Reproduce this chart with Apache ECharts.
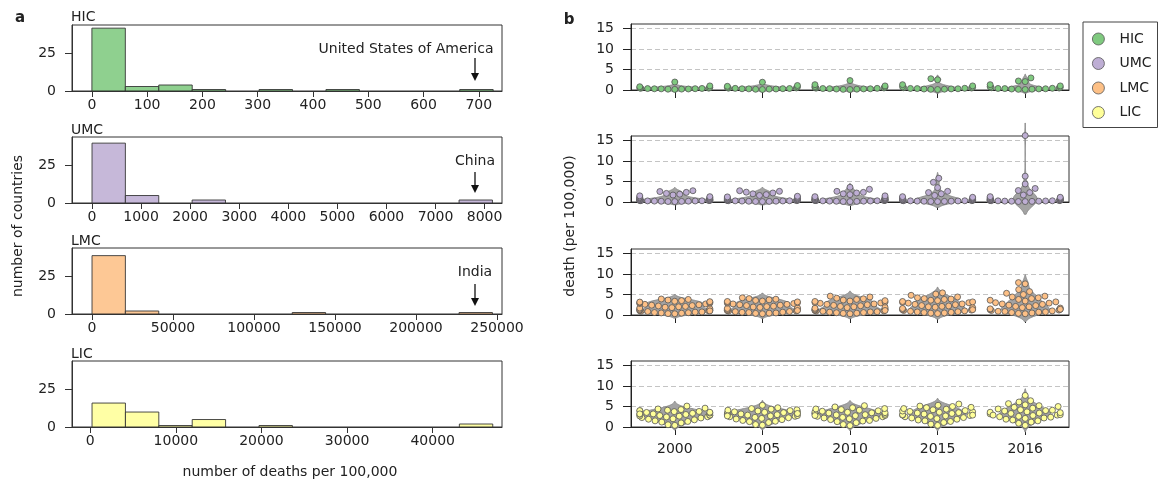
<!DOCTYPE html>
<html><head><meta charset="utf-8">
<script src="https://cdn.jsdelivr.net/npm/echarts@6/dist/echarts.min.js"></script>
<style>html,body{margin:0;padding:0;background:#fff}#c{width:1161px;height:481px}</style>
</head><body><div id="c"></div>
<script>
// ---------------- DATA ----------------
const groups = ['HIC', 'UMC', 'LMC', 'LIC'];
const years = ['2000', '2005', '2010', '2015', '2016'];

// Histograms (panel a): first bin edge, bin width, counts per bin
const histStart = [0, 0, 0, 210];
const histBinWidth = [60.5, 680, 20600, 3900];
const histHIC = [42, 3, 4, 1, 0, 1, 0, 1, 0, 0, 0, 1];
const histUMC = [40, 5, 0, 2, 0, 0, 0, 0, 0, 0, 0, 2];
const histLMC = [39, 2, 0, 0, 0, 0, 1, 0, 0, 0, 0, 1];
const histLIC = [16, 10, 1, 5, 0, 1, 0, 0, 0, 0, 0, 2];
const histXTicksHIC = [0, 100, 200, 300, 400, 500, 600, 700];
const histXTicksUMC = [0, 1000, 2000, 3000, 4000, 5000, 6000, 7000, 8000];
const histXTicksLMC = [0, 50000, 100000, 150000, 200000, 250000];
const histXTicksLIC = [0, 10000, 20000, 30000, 40000];
const histYTicks = [0, 25];
const deathYTicks = [0, 5, 10, 15];

// Swarm values (panel b): deaths per 100,000 per country, per year
const hic2000 = [0.15,0.2,0.22,0.25,0.28,0.3,0.32,0.35,0.38,0.42,0.45,0.5,0.6,0.8,1.0,1.95];
const hic2005 = [0.12,0.18,0.22,0.25,0.28,0.3,0.33,0.36,0.4,0.45,0.5,0.6,0.75,0.9,1.1,1.9];
const hic2010 = [0.12,0.16,0.2,0.24,0.27,0.3,0.33,0.36,0.4,0.45,0.5,0.58,0.7,0.85,1.0,1.3,2.3];
const hic2015 = [0.12,0.16,0.2,0.24,0.27,0.3,0.34,0.38,0.42,0.48,0.55,0.65,0.8,1.0,1.3,2.5,2.75];
const hic2016 = [0.12,0.16,0.2,0.24,0.27,0.3,0.34,0.38,0.42,0.48,0.55,0.65,0.8,1.0,1.3,2.05,2.2,2.95];

const umc2000 = [0.1,0.12,0.15,0.18,0.2,0.22,0.25,0.27,0.3,0.32,0.35,0.38,0.4,0.42,0.45,0.5,0.55,0.6,0.7,0.8,0.9,1.0,1.1,1.2,1.3,1.5,1.7,1.9,2.1,2.35,2.55,2.75];
const umc2005 = [0.1,0.12,0.15,0.18,0.2,0.22,0.25,0.28,0.3,0.32,0.35,0.38,0.4,0.43,0.47,0.52,0.58,0.65,0.75,0.85,0.95,1.05,1.15,1.25,1.4,1.6,1.8,2.0,2.2,2.4,2.6,2.75];
const umc2010 = [0.1,0.12,0.15,0.18,0.2,0.22,0.25,0.28,0.3,0.32,0.35,0.38,0.4,0.43,0.47,0.52,0.58,0.65,0.75,0.85,0.95,1.05,1.15,1.3,1.5,1.8,2.0,2.2,2.35,2.6,3.1,3.6];
const umc2015 = [0.1,0.12,0.15,0.18,0.2,0.22,0.25,0.28,0.3,0.32,0.35,0.38,0.4,0.43,0.47,0.52,0.58,0.65,0.75,0.85,0.95,1.05,1.15,1.3,1.6,2.0,2.3,2.6,3.5,4.8,5.8];
const umc2016 = [0.1,0.12,0.15,0.18,0.2,0.22,0.25,0.28,0.3,0.32,0.35,0.38,0.4,0.43,0.47,0.52,0.58,0.65,0.75,0.85,0.95,1.05,1.15,1.3,1.7,2.3,2.8,3.3,4.4,6.3,16.2];

const lmc2000 = [0.3,0.35,0.45,0.5,0.55,0.6,0.7,0.75,0.85,0.9,1.0,1.05,1.1,1.2,1.3,1.4,1.55,1.7,1.8,1.9,2.0,2.1,2.2,2.3,2.4,2.5,2.6,2.7,2.8,2.9,3.0,3.1,3.15,3.25,3.35,3.5,3.65,3.8,3.9,1.0];
const lmc2005 = [0.3,0.4,0.45,0.5,0.6,0.65,0.7,0.8,0.85,0.95,1.0,1.1,1.15,1.25,1.35,1.5,1.6,1.75,1.85,1.95,2.05,2.15,2.3,2.4,2.5,2.6,2.7,2.8,2.9,3.0,3.1,3.2,3.3,3.4,3.55,3.7,3.85,4.0,4.2,1.1];
const lmc2010 = [0.3,0.4,0.45,0.55,0.6,0.7,0.75,0.8,0.9,0.95,1.0,1.1,1.2,1.3,1.4,1.5,1.65,1.8,1.9,2.0,2.1,2.25,2.35,2.5,2.6,2.7,2.85,2.95,3.05,3.15,3.3,3.4,3.5,3.65,3.8,3.95,4.1,4.4,4.6,1.1];
const lmc2015 = [0.35,0.45,0.5,0.6,0.65,0.75,0.8,0.9,1.0,1.1,1.2,1.3,1.4,1.5,1.6,1.8,1.9,2.0,2.1,2.2,2.3,2.5,2.6,2.7,2.9,3.0,3.1,3.2,3.3,3.5,3.6,3.8,3.9,4.0,4.2,4.4,4.8,5.1,5.4,1.3];
const lmc2016 = [0.3,0.4,0.5,0.6,0.7,0.75,0.85,0.9,1.0,1.1,1.2,1.3,1.4,1.5,1.7,1.8,2.0,2.1,2.3,2.4,2.6,2.7,2.9,3.0,3.2,3.4,3.6,3.8,4.0,4.2,4.4,4.6,5.0,5.3,5.7,6.2,7.6,7.9,1.4];

const lic2000 = [0.4,0.55,1.0,1.2,1.35,1.5,1.75,1.9,2.0,2.2,2.3,2.45,2.5,2.65,2.7,2.85,2.9,3.05,3.1,3.2,3.35,3.4,3.55,3.6,3.75,3.8,3.95,4.0,4.1,4.25,4.4,4.6,5.1,2.8,3.2];
const lic2005 = [0.45,0.6,1.1,1.3,1.4,1.6,1.8,1.95,2.1,2.25,2.35,2.5,2.6,2.7,2.8,2.9,3.0,3.1,3.2,3.3,3.4,3.5,3.6,3.7,3.8,3.9,4.0,4.1,4.2,4.35,4.5,4.7,5.3,2.7,3.3];
const lic2010 = [0.35,0.6,1.05,1.3,1.45,1.6,1.8,2.0,2.1,2.2,2.35,2.5,2.6,2.75,2.8,2.95,3.0,3.1,3.2,3.35,3.45,3.5,3.6,3.7,3.85,3.95,4.1,4.25,4.4,4.5,4.7,4.9,5.2,2.8,3.4];
const lic2015 = [0.4,0.7,1.1,1.35,1.5,1.7,1.9,2.05,2.2,2.3,2.5,2.6,2.7,2.8,2.9,3.0,3.15,3.3,3.4,3.5,3.7,3.8,3.9,4.0,4.2,4.35,4.5,4.7,4.8,5.0,5.1,5.3,5.6,2.9,3.6];
const lic2016 = [0.4,0.9,1.2,1.5,1.7,1.9,2.1,2.2,2.4,2.5,2.6,2.8,2.9,3.0,3.2,3.3,3.4,3.6,3.7,3.9,4.0,4.2,4.4,4.6,4.8,5.0,5.2,5.4,5.7,6.1,6.4,7.7,2.9,3.5,4.1];

// ---------------- ASSEMBLY ----------------
const hists = [histHIC, histUMC, histLMC, histLIC];
const histTicks = [histXTicksHIC, histXTicksUMC, histXTicksLMC, histXTicksLIC];
const histRange = [[-36, 742], [-408, 8355], [-12360, 253100], [-2130, 48090]];
const swarm = [
  [hic2000, hic2005, hic2010, hic2015, hic2016],
  [umc2000, umc2005, umc2010, umc2015, umc2016],
  [lmc2000, lmc2005, lmc2010, lmc2015, lmc2016],
  [lic2000, lic2005, lic2010, lic2015, lic2016]
];
const colors = ['#7fc97f', '#beaed4', '#fdc086', '#ffff99'];
const FONT = 'DejaVu Sans';
const TXT = '#222';
const LL = 72, LW = 430, RL = 631, RW = 438, H = 66;
const leftTops = [25, 137, 248, 361];
const rightTops = [24, 136, 249, 361];
const YMAX_B = 16.1;
const plain = v => String(Math.round(v));

const chart = echarts.init(document.getElementById('c'));

function baseOption() {
  const grid = [], xAxis = [], yAxis = [];
  for (let g = 0; g < 4; g++) {
    grid.push({left: LL, top: leftTops[g], width: LW, height: H, show: true, borderColor: '#333', borderWidth: 1});
    xAxis.push({type: 'value', gridIndex: g, min: histRange[g][0], max: histRange[g][1],
      axisLine: {show: true, onZero: false, lineStyle: {color: '#333'}},
      axisTick: {show: true, length: 6, customValues: histTicks[g], lineStyle: {color: '#333'}},
      axisLabel: {customValues: histTicks[g], formatter: plain, margin: 7, fontSize: 14, color: TXT, fontFamily: FONT},
      splitLine: {show: false}});
    yAxis.push({type: 'value', gridIndex: g, min: 0, max: 44.1,
      axisLine: {show: true, onZero: false, lineStyle: {color: '#333'}},
      axisTick: {show: true, length: 7, customValues: histYTicks, lineStyle: {color: '#333'}},
      axisLabel: {customValues: histYTicks, formatter: plain, margin: 16, fontSize: 14, color: TXT, fontFamily: FONT},
      splitLine: {show: false}});
  }
  for (let g = 0; g < 4; g++) {
    grid.push({left: RL, top: rightTops[g], width: RW, height: H, show: true, borderColor: '#333', borderWidth: 1});
    xAxis.push({type: 'value', gridIndex: 4 + g, min: -0.5, max: 4.5,
      axisLine: {show: true, onZero: false, lineStyle: {color: '#222'}},
      axisTick: {show: true, length: 8, customValues: [0, 1, 2, 3, 4], lineStyle: {color: '#222'}},
      axisLabel: {show: g === 3, customValues: [0, 1, 2, 3, 4], formatter: v => years[Math.round(v)],
        margin: 15, fontSize: 14, color: TXT, fontFamily: FONT},
      splitLine: {show: false}});
    yAxis.push({type: 'value', gridIndex: 4 + g, min: 0, max: YMAX_B, interval: 5,
      axisLine: {show: true, onZero: false, lineStyle: {color: '#222'}},
      axisTick: {show: true, length: 8, customValues: deathYTicks, lineStyle: {color: '#222'}},
      axisLabel: {customValues: deathYTicks, formatter: plain, margin: 17, fontSize: 14, color: TXT, fontFamily: FONT},
      splitLine: {show: true, lineStyle: {color: '#c4c4c4', type: [5, 3], width: 1}}});
  }
  return {animation: false, backgroundColor: '#fff', grid, xAxis, yAxis};
}

const opt = baseOption();
chart.setOption(opt);

// beeswarm layout in pixel space (seaborn-like), then converted back to data units
function beeswarm(ys, d, maxHalf) {
  const n = ys.length;
  const order = ys.map((y, i) => i).sort((a, b) => ys[b] - ys[a]);
  const placed = [];
  const xs = new Array(n);
  for (const i of order) {
    const y = ys[i];
    const nb = placed.filter(p => Math.abs(p.y - y) < d);
    const cands = [0];
    for (const p of nb) {
      const dx = Math.sqrt(d * d - (p.y - y) * (p.y - y));
      cands.push(p.x + dx, p.x - dx);
    }
    cands.sort((a, b) => Math.abs(a) - Math.abs(b) || a - b);
    let best = cands[cands.length - 1];
    for (const c of cands) {
      if (nb.every(p => (p.x - c) * (p.x - c) + (p.y - y) * (p.y - y) >= d * d - 1e-6)) { best = c; break; }
    }
    placed.push({x: best, y});
    xs[i] = best;
  }
  return xs.map(x => Math.max(-maxHalf, Math.min(maxHalf, x)));
}

function kde(vals) {
  const n = vals.length;
  const mean = vals.reduce((a, b) => a + b, 0) / n;
  const sd = Math.sqrt(vals.reduce((a, b) => a + (b - mean) * (b - mean), 0) / (n - 1));
  const bw = sd * Math.pow(n, -0.2);
  const lo = Math.min(...vals) - 2 * bw, hi = Math.max(...vals) + 2 * bw;
  const pts = [];
  for (let k = 0; k <= 100; k++) {
    const y = lo + (hi - lo) * k / 100;
    let s = 0;
    for (const v of vals) s += Math.exp(-0.5 * ((y - v) / bw) ** 2);
    pts.push([y, s / (n * bw * Math.sqrt(2 * Math.PI))]);
  }
  return pts;
}

const DOT = 6.0, GAP = 6.8;
const series = [];
for (let g = 0; g < 4; g++) {
  const data = [];
  hists[g].forEach((c, i) => { if (c > 0) data.push([histStart[g] + i * histBinWidth[g], histStart[g] + (i + 1) * histBinWidth[g], c]); });
  series.push({type: 'custom', xAxisIndex: g, yAxisIndex: g, data, silent: true,
    renderItem: (params, api) => {
      const p0 = api.coord([api.value(0), api.value(2)]);
      const p1 = api.coord([api.value(1), 0]);
      return {type: 'rect', shape: {x: p0[0], y: p0[1], width: p1[0] - p0[0], height: p1[1] - p0[1]},
        style: {fill: colors[g], opacity: 0.88, stroke: '#333', lineWidth: 1}};
    }});
}
for (let g = 0; g < 4; g++) {
  const gi = 4 + g;
  const o = chart.convertToPixel({gridIndex: gi}, [0, 0]);
  const u = chart.convertToPixel({gridIndex: gi}, [1, 1]);
  const pxX = u[0] - o[0], pxY = o[1] - u[1];
  const dens = swarm[g].map(kde);
  const maxD = Math.max(...dens.map(d => Math.max(...d.map(p => p[1]))));
  const shapes = dens.map((d, i) => {
    const right = d.map(p => [i + 0.4 * p[1] / maxD, p[0]]);
    const left = d.slice().reverse().map(p => [i - 0.4 * p[1] / maxD, p[0]]);
    return right.concat(left);
  });
  series.push({type: 'custom', xAxisIndex: gi, yAxisIndex: gi, clip: false, silent: true, z: 2,
    data: years.map((y, i) => [i]),
    renderItem: (params, api) => ({type: 'polygon',
      shape: {points: shapes[params.dataIndex].map(p => api.coord(p))},
      style: {fill: '#a3a3a3', stroke: '#8c8c8c', lineWidth: 1}})});
  const pts = [];
  swarm[g].forEach((vals, i) => {
    const xs = beeswarm(vals.map(v => o[1] - v * pxY), GAP, 0.4 * pxX);
    vals.forEach((v, k) => pts.push([i + xs[k] / pxX, v]));
  });
  series.push({type: 'scatter', name: groups[g], xAxisIndex: gi, yAxisIndex: gi, clip: false, z: 3,
    data: pts, symbolSize: DOT,
    itemStyle: {color: colors[g], borderColor: '#555', borderWidth: 0.8, opacity: 1}});
}

function arrow(x, y0, y1) {
  return {type: 'group', children: [
    {type: 'line', shape: {x1: x, y1: y0, x2: x, y2: y1 - 6}, style: {stroke: '#111', lineWidth: 1.3}},
    {type: 'polygon', shape: {points: [[x - 4, y1 - 8], [x + 4, y1 - 8], [x, y1]]}, style: {fill: '#111'}}
  ]};
}
const txt = (x, y, s, extra) => Object.assign({type: 'text', x, y,
  style: Object.assign({text: s, font: '14px "' + FONT + '"', fill: TXT, textAlign: 'left', textVerticalAlign: 'middle'}, extra || {})});

const graphic = [
  txt(20, 18, 'a', {font: 'bold 15px "' + FONT + '"', textAlign: 'center'}),
  txt(569, 20, 'b', {font: 'bold 15px "' + FONT + '"', textAlign: 'center'}),
  txt(71, 17, 'HIC'), txt(71, 130, 'UMC'), txt(71, 241, 'LMC'), txt(71, 354, 'LIC'),
  txt(406, 49, 'United States of America', {textAlign: 'center'}),
  txt(475, 161, 'China', {textAlign: 'center'}),
  txt(475, 272, 'India', {textAlign: 'center'}),
  arrow(475, 58, 81), arrow(475, 172, 193), arrow(475, 284, 306),
  txt(290, 472, 'number of deaths per 100,000', {textAlign: 'center'}),
  Object.assign(txt(0, 0, 'number of countries', {textAlign: 'center'}), {x: 18, y: 226, rotation: Math.PI / 2}),
  Object.assign(txt(0, 0, 'death (per 100,000)', {textAlign: 'center'}), {x: 570, y: 226, rotation: Math.PI / 2})
];

opt.series = series;
opt.graphic = graphic;
opt.legend = {data: groups, orient: 'vertical', left: 1083, top: 22, icon: 'circle',
  itemWidth: 12, itemHeight: 12, itemGap: 10.5, padding: [10, 6, 8, 9],
  borderColor: '#444', borderWidth: 1, selectedMode: false,
  itemStyle: {borderColor: '#555', borderWidth: 0.8},
  textStyle: {fontSize: 14, color: TXT, fontFamily: FONT, padding: [0, 0, 0, 10]}};
chart.setOption(opt, true);
</script></body></html>
